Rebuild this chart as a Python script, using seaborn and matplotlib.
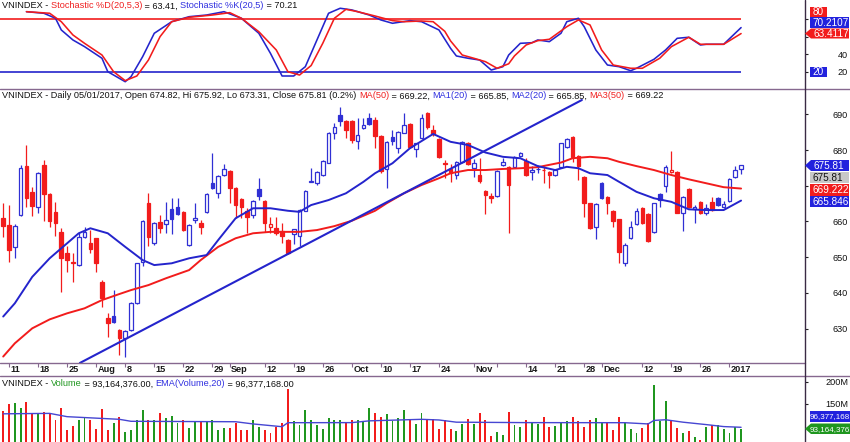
import numpy as np
import pandas as pd
import matplotlib
matplotlib.use("Agg")
import matplotlib.pyplot as plt
from matplotlib.patches import Polygon
from matplotlib.lines import Line2D
import seaborn as sns

# ---------------- data ----------------
opens = [661.1, 659.0, 652.8, 661.8, 675.5, 668.3, 664.0, 675.8, 667.7, 662.6,
         657.1, 651.3, 648.8, 647.8, 655.7, 654.1, 655.3, 643.1, 632.9, 633.6,
         629.6, 627.4, 629.6, 637.1, 648.7, 665.1, 653.9, 659.8, 659.3, 663.4,
         664.1, 662.7, 653.4, 660.5, 659.7, 662.7, 670.7, 667.9, 673.0, 674.2,
         669.3, 666.3, 663.0, 661.8, 669.1, 665.7, 658.4, 658.1, 657.4, 654.8,
         656.5, 656.0, 663.0, 671.1, 670.7, 673.0, 676.5, 684.9, 689.8, 688.0,
         688.0, 682.6, 686.1, 688.9, 688.5, 684.0, 674.7, 683.6, 680.5, 684.9,
         687.3, 680.2, 683.3, 690.4, 685.6, 683.1, 676.3, 674.6, 673.0, 676.7,
         682.1, 674.9, 673.0, 668.5, 667.0, 667.1, 675.8, 675.2, 675.2, 678.3,
         677.0, 673.9, 674.6, 674.5, 673.9, 673.0, 675.2, 680.9, 683.6, 678.3,
         672.5, 665.1, 658.4, 670.7, 666.8, 663.0, 660.6, 648.3, 655.3, 659.3,
         663.7, 662.1, 657.1, 667.7, 669.9, 673.9, 673.9, 662.3, 669.1, 663.5,
         665.5, 662.5, 665.5, 666.5, 664.0, 665.7, 672.4, 674.82]
highs = [665.2, 664.6, 659.2, 675.8, 681.4, 669.7, 673.8, 677.2, 668.0, 665.5,
         658.1, 653.0, 651.2, 656.7, 658.5, 657.6, 655.5, 643.5, 634.3, 640.8,
         630.0, 629.6, 637.5, 648.5, 660.4, 668.1, 659.8, 661.8, 665.5, 666.5,
         666.5, 663.0, 659.2, 665.1, 660.4, 668.0, 679.3, 673.0, 676.1, 674.5,
         669.7, 666.5, 663.7, 666.0, 672.1, 666.0, 661.3, 661.3, 659.7, 655.0,
         658.0, 663.4, 668.7, 675.0, 674.2, 677.1, 685.1, 687.6, 692.0, 688.3,
         688.3, 688.9, 688.9, 690.5, 689.3, 684.2, 682.4, 685.6, 685.3, 690.3,
         687.6, 682.1, 690.0, 690.6, 686.9, 683.3, 677.2, 676.1, 676.9, 682.5,
         682.3, 677.4, 677.7, 668.8, 667.9, 674.3, 677.7, 675.4, 678.3, 679.5,
         677.8, 675.5, 675.8, 675.5, 674.2, 674.6, 682.1, 683.5, 683.8, 678.5,
         672.7, 665.3, 665.1, 671.0, 667.0, 663.2, 660.8, 653.9, 660.2, 663.8,
         664.0, 662.3, 665.3, 668.0, 675.7, 679.8, 674.1, 667.0, 669.5, 664.6,
         665.8, 665.0, 666.8, 666.8, 665.8, 672.1, 675.5, 675.92]
lows = [655.7, 648.7, 649.9, 661.5, 664.1, 661.5, 662.4, 660.0, 658.5, 656.0,
        640.4, 646.0, 643.2, 647.5, 655.5, 651.1, 646.0, 636.2, 627.8, 631.6,
        622.6, 622.2, 629.4, 637.0, 647.5, 653.0, 653.5, 656.9, 656.8, 656.4,
        661.8, 657.3, 653.0, 659.5, 656.5, 662.5, 669.0, 666.5, 672.8, 665.1,
        660.9, 660.9, 656.7, 661.0, 666.0, 657.0, 656.9, 656.2, 654.1, 650.9,
        653.7, 653.2, 662.8, 671.0, 670.2, 672.8, 676.3, 683.0, 686.7, 683.5,
        682.1, 680.2, 685.9, 687.0, 680.5, 673.5, 669.3, 681.4, 679.1, 684.7,
        680.5, 678.1, 683.0, 686.0, 684.0, 677.8, 672.1, 671.1, 671.8, 676.5,
        675.9, 672.4, 670.9, 662.1, 665.1, 666.9, 675.5, 656.9, 675.0, 678.0,
        672.6, 671.6, 673.5, 670.9, 669.3, 672.8, 675.0, 680.7, 676.7, 671.6,
        661.2, 657.9, 655.0, 666.3, 662.1, 658.4, 648.5, 647.5, 655.1, 659.1,
        659.3, 654.3, 656.9, 664.1, 668.3, 673.7, 662.3, 657.4, 663.8, 659.5,
        662.1, 661.7, 663.0, 664.4, 663.8, 665.5, 672.2, 673.31]
closes = [658.6, 652.0, 658.7, 674.9, 666.5, 664.3, 673.5, 667.7, 660.2, 659.7,
          649.7, 649.2, 648.4, 655.7, 657.1, 652.2, 648.3, 638.5, 631.5, 631.8,
          627.3, 629.4, 637.3, 648.3, 660.2, 655.7, 659.5, 658.1, 660.4, 660.6,
          662.1, 657.6, 659.0, 661.0, 658.4, 667.7, 669.3, 672.7, 674.6, 669.3,
          664.6, 664.0, 661.3, 665.8, 667.0, 659.5, 659.2, 656.7, 656.0, 651.3,
          657.8, 663.2, 668.5, 671.4, 673.9, 676.9, 684.9, 686.5, 688.2, 685.6,
          682.8, 684.2, 687.0, 687.2, 684.0, 674.1, 682.2, 682.5, 685.1, 687.0,
          680.8, 681.9, 688.9, 686.4, 684.5, 678.1, 676.0, 673.7, 676.7, 682.3,
          676.1, 676.5, 671.4, 667.4, 666.6, 674.1, 676.7, 670.2, 678.1, 679.1,
          673.0, 674.4, 674.7, 674.3, 673.0, 674.4, 681.9, 683.0, 678.1, 675.5,
          665.1, 658.1, 664.9, 666.5, 665.1, 660.2, 651.4, 653.4, 658.5, 663.0,
          659.5, 654.6, 665.1, 666.0, 675.2, 674.4, 662.5, 666.8, 664.0, 664.1,
          662.3, 663.7, 663.2, 664.6, 664.8, 671.9, 674.4, 675.81]
volume_m = [133.4, 148.6, 150.8, 139.5, 154.5, 125.9, 125.9, 131.8, 125.9, 113.0,
            140.9, 90.2, 99.3, 113.0, 116.8, 113.0, 91.8, 137.2, 90.2, 105.4,
            120.5, 86.4, 90.2, 113.8, 135.7, 113.0, 113.0, 129.6, 116.8, 122.1,
            105.4, 112.3, 94.1, 110.7, 110.0, 110.0, 112.0, 90.2, 94.1, 95.6,
            105.4, 90.2, 90.2, 113.0, 96.0, 90.2, 82.6, 96.0, 106.8, 182.7,
            110.0, 102.5, 135.7, 113.0, 102.5, 91.8, 116.8, 112.0, 112.0, 105.4,
            112.0, 112.0, 110.0, 140.9, 129.6, 120.5, 126.7, 110.0, 117.5, 135.7,
            113.0, 104.0, 128.0, 114.5, 114.5, 91.8, 112.0, 91.8, 88.0, 104.0,
            114.5, 104.0, 128.0, 113.0, 76.6, 86.4, 78.8, 130.4, 102.5, 96.0,
            113.0, 105.4, 104.0, 120.5, 97.2, 98.7, 106.8, 110.0, 119.0, 110.0,
            96.0, 113.0, 116.8, 105.4, 106.8, 90.2, 120.5, 105.4, 91.8, 82.6,
            94.1, 105.4, 192.5, 110.0, 156.8, 110.0, 94.1, 84.5, 88.0, 75.0,
            67.5, 97.2, 102.5, 102.5, 91.8, 84.5, 96.0, 93.16]

ma20_idx = [0, 2, 5, 8, 11, 13, 15, 18, 21, 24, 26, 29, 32, 35, 37, 40, 43, 46, 49, 51,
            53, 56, 59, 62, 64, 67, 70, 74, 77, 80, 83, 86, 89, 92, 95, 97, 99, 101, 104,
            106, 109, 112, 115, 118, 121, 124, 127]
ma20_val = [633.4, 637.1, 644.5, 649.7, 653.9, 656.7, 658.1, 656.7, 652.9, 649.2,
            647.8, 648.3, 649.7, 650.6, 654.8, 660.9, 663.7, 663.7, 663.0, 662.7,
            664.6, 666.0, 667.9, 671.1, 673.5, 676.3, 680.5, 684.5, 682.3, 681.4,
            679.3, 678.1, 677.7, 675.5, 674.4, 675.3, 674.9, 673.5, 673.0, 671.1,
            668.3, 666.5, 665.5, 663.4, 663.2, 663.2, 665.85]
ma50_idx = [0, 2, 5, 8, 11, 14, 17, 20, 22, 25, 28, 32, 34, 37, 40, 43, 46, 49, 51, 54,
            57, 60, 64, 66, 69, 72, 75, 77, 80, 83, 86, 89, 92, 96, 98, 101, 104, 106,
            109, 112, 115, 118, 121, 124, 127]
ma50_val = [622.2, 625.9, 630.1, 632.6, 634.3, 635.7, 638.0, 639.7, 640.8, 642.2,
            644.1, 646.4, 649.2, 652.9, 655.3, 656.7, 657.1, 657.1, 657.1, 657.6,
            658.7, 660.2, 663.0, 665.1, 667.9, 670.2, 672.1, 673.5, 674.4, 674.4,
            674.7, 674.9, 675.2, 676.5, 677.7, 678.1, 677.7, 676.7, 675.5, 674.4,
            673.0, 671.8, 670.7, 669.6, 669.22]

trend_idx = [13.2, 99.6]
trend_val = [620.4, 694.0]

stk_idx = [4, 7, 9, 10, 12, 14, 17, 18, 21, 22, 24, 26, 29, 32, 35, 38, 41, 44, 46, 48,
           50, 52, 54, 56, 58, 60, 63, 65, 67, 70, 72, 75, 77, 78, 80, 82, 84, 86, 87, 89,
           91, 92, 94, 96, 97, 99, 100, 102, 104, 106, 108, 109, 112, 114, 116, 118, 120,
           121, 124, 127]
stk_val = [88.3, 86.5, 80.8, 67.5, 56.1, 48.5, 35.3, 20.0, 8.6, 14.3,
           37.1, 63.7, 76.9, 82.6, 84.5, 88.3, 80.8, 63.7, 40.9, 15.1,
           15.1, 25.7, 56.1, 86.5, 92.2, 90.3, 84.5, 78.9, 75.1, 78.1,
           76.9, 67.5, 46.6, 37.9, 35.3, 33.3, 21.9, 25.7, 39.0, 52.3,
           53.0, 56.1, 54.2, 63.7, 76.9, 80.8, 71.2, 44.7, 27.6, 25.7,
           21.1, 23.9, 34.1, 44.7, 58.0, 59.2, 50.4, 51.2, 51.2, 70.21]
std_idx = [4, 8, 10, 12, 14, 17, 19, 21, 23, 25, 27, 29, 32, 36, 39, 41, 44, 47, 49, 51,
           53, 55, 57, 59, 61, 64, 67, 69, 72, 74, 76, 77, 79, 81, 83, 85, 87, 88, 90, 92,
           94, 97, 99, 101, 103, 105, 108, 110, 113, 115, 118, 120, 124, 127]
std_val = [88.3, 86.5, 76.9, 61.8, 52.3, 39.0, 20.0, 9.8, 15.1, 33.3,
           59.9, 76.9, 81.9, 84.5, 87.2, 80.8, 65.5, 44.7, 20.0, 16.2,
           27.0, 52.3, 80.8, 91.0, 88.3, 83.4, 78.1, 76.9, 77.7, 76.9,
           66.0, 55.0, 39.0, 35.3, 31.4, 23.9, 29.0, 38.0, 50.4, 55.3,
           56.9, 71.2, 78.9, 73.2, 44.7, 27.6, 23.9, 23.9, 35.3, 48.5,
           59.2, 51.2, 51.2, 63.41]

ema_idx = [0, 8, 11, 20, 22, 40, 43, 48, 49, 60, 63, 72, 75, 78, 90, 107, 111, 112,
           114, 117, 121, 124, 127]
ema_val = [127, 128, 120.5, 114.5, 110, 109, 104, 97.7, 106.8, 107, 111, 114.5, 113,
           108, 107, 106.8, 104, 112, 113.5, 108, 102.5, 98, 96.38]

tick_idx = [1, 6, 11, 16, 21, 26, 31, 36, 39, 45, 50, 55, 60, 65, 70, 75, 81, 85, 90,
            95, 100, 103, 110, 115, 120, 125]
tick_lab = ['11', '18', '25', 'Aug', '8', '15', '22', '29', 'Sep', '12', '19', '26',
            'Oct', '10', '17', '24', 'Nov', '', '14', '21', '28', 'Dec', '12', '19',
            '26', '2017']

# last-value labels shown on the right scale
stoch_k_last = '70.2107'
stoch_d_last = '63.4117'
ma50_last = '669.222'
ma20_last = '665.846'
vol_last = '93,164,376'
vol_ema_last = '96,377,168'

# ---------------- styling ----------------
sns.set_theme(style="white")
plt.rcParams['font.family'] = ['Liberation Sans', 'DejaVu Sans']

RED = '#f21c1c'
BLUE = '#2424cc'
CBLUE = '#3030d4'
GREEN = '#1f961f'
SEP = '#86688f'
DARK = '#222222'

W, H = 850, 442
fig = plt.figure(figsize=(W / 100, H / 100), dpi=100)
fig.patch.set_facecolor('white')


def fx(px):
    return px / W


def fy(py):
    return 1 - py / H


RIGHT = 805
XL = (-0.55, 138.0)
ax_st = fig.add_axes([0, fy(88.5), fx(RIGHT), 88.5 / H])
ax_main = fig.add_axes([0, fy(363.3), fx(RIGHT), (363.3 - 88.5) / H])
ax_vol = fig.add_axes([0, 0, fx(RIGHT), (442 - 376) / H])

for ax in (ax_st, ax_main, ax_vol):
    ax.set_xlim(*XL)
    ax.set_facecolor('white')
    for s in ax.spines.values():
        s.set_visible(False)

ax_st.set_ylim(0.87, 101.6)
ax_main.set_ylim(620.31, 697.22)
ax_vol.set_ylim(62.94, 212.96)

# ---------------- candles ----------------
o = np.array(opens); h = np.array(highs); l = np.array(lows); c = np.array(closes)
n = len(c)
idx = np.arange(n)
prev = np.r_[np.inf, c[:-1]]
up_day = c > prev
col = [CBLUE if u else RED for u in up_day]
face = [('white' if cc >= oo else cl) for cc, oo, cl in zip(c, o, col)]
body_bot = np.minimum(o, c)
body_h = np.maximum(np.abs(c - o), 0.2)
ax_main.vlines(idx, l, h, colors=col, lw=0.9, zorder=3)
ax_main.bar(idx, body_h, bottom=body_bot, width=0.62, color=face, edgecolor=col,
            linewidth=0.9, zorder=4)

# moving averages + trend line
sns.lineplot(x=ma50_idx, y=ma50_val, ax=ax_main, color=RED, linewidth=1.4, zorder=5)
sns.lineplot(x=ma20_idx, y=ma20_val, ax=ax_main, color=BLUE, linewidth=1.4, zorder=5)
sns.lineplot(x=trend_idx, y=trend_val, ax=ax_main, color=BLUE, linewidth=1.5, zorder=5)

# ---------------- stochastic ----------------
ax_st.hlines(80, XL[0], n - 1, color=RED, lw=1.2, zorder=2)
ax_st.hlines(20, XL[0], n - 1, color=BLUE, lw=1.2, zorder=2)
sns.lineplot(x=stk_idx, y=stk_val, ax=ax_st, color=BLUE, linewidth=1.15, zorder=4)
sns.lineplot(x=std_idx, y=std_val, ax=ax_st, color=RED, linewidth=1.15, zorder=5)

# ---------------- volume ----------------
vcol = [GREEN if u else RED for u in up_day]
ax_vol.bar(idx, volume_m, width=0.33, color=vcol, linewidth=0, zorder=3)
sns.lineplot(x=ema_idx, y=ema_val, ax=ax_vol, color='#4646d2', linewidth=1.0, zorder=4)

for ax in (ax_st, ax_main, ax_vol):
    ax.set_xlabel('')
    ax.set_ylabel('')
    ax.set_xlim(*XL)

# ---------------- right axes ----------------
# labels hidden behind the value boxes in the reference are left blank
for ax, ticks, labels in [
        (ax_st, [20, 40, 60, 80], ['20', '40', '', '']),
        (ax_main, [630, 640, 650, 660, 670, 680, 690],
         ['630', '640', '650', '660', '', '680', '690']),
        (ax_vol, [150, 200], ['150M', '200M'])]:
    ax.yaxis.tick_right()
    ax.set_yticks(ticks)
    ax.set_yticklabels(labels)
    ax.tick_params(axis='y', which='both', right=True, left=False, direction='out',
                   length=2.2, width=0.8, color=DARK, pad=28.8, labelsize=6.6,
                   labelcolor='#111111')
    for t in ax.get_yticklabels():
        t.set_ha('right')

ax_st.set_xticks([])
ax_vol.set_xticks([])
ax_main.set_xticks(tick_idx)
ax_main.set_xticklabels([])
ax_main.tick_params(axis='x', bottom=True, direction='out', length=2.6, width=0.8,
                    color=SEP)
for ti, tl in zip(tick_idx, tick_lab):
    ax_main.annotate(tl, xy=(ti, 0), xycoords=('data', 'axes fraction'),
                     xytext=(1.5, -6.3), textcoords='offset pixels', ha='left',
                     va='center', fontsize=6.6, fontweight='bold', color='#1a1a1a',
                     annotation_clip=False)

# ---------------- frame lines ----------------
def hline(py, x0, x1, color=SEP, lw=1.0):
    fig.add_artist(Line2D([fx(x0), fx(x1)], [fy(py), fy(py)], color=color, lw=lw,
                          transform=fig.transFigure, zorder=2))


hline(88.5, 0, W)
hline(363.3, 0, RIGHT)
hline(376, 0, W)
fig.add_artist(Line2D([fx(RIGHT), fx(RIGHT)], [0, 1], color='#3a2a44', lw=1.0,
                      transform=fig.transFigure, zorder=2))

# ---------------- value boxes ----------------
def box(x0, y0, x1, y1, fc, txt, tc='white', arrow=False, tx=None, size=7.2):
    if arrow:
        ym = (y0 + y1) / 2
        pts = [(x0, ym), (x0 + 6, y0), (x1, y0), (x1, y1), (x0 + 6, y1)]
    else:
        pts = [(x0, y0), (x1, y0), (x1, y1), (x0, y1)]
    fig.add_artist(Polygon([(fx(a), fy(b)) for a, b in pts], closed=True,
                           facecolor=fc, edgecolor='none', transform=fig.transFigure,
                           zorder=5))
    if tx is None:
        tx = x0 + 2.5 if not arrow else x0 + 8
    fig.text(fx(tx), fy((y0 + y1) / 2 + 0.3), txt, color=tc, fontsize=size,
             ha='left', va='center', zorder=6)


box(810, 6.5, 827, 16.5, RED, '80')
box(810, 17, 849, 27.5, '#2222dd', stoch_k_last)
box(805, 28.5, 849, 38.5, RED, stoch_d_last, arrow=True)
box(810, 66.5, 827, 77, '#2222dd', '20')

box(805, 160, 849, 171, '#2222dd', f'{closes[-1]:.2f}', arrow=True)
box(810, 172, 849, 182.5, '#c8c8c8', f'{closes[-1]:.2f}', tc='#111111')
box(810, 184, 849, 195.5, RED, ma50_last)
box(810, 196, 849, 206.5, '#2222dd', ma20_last)

box(810, 410.5, 852, 421.5, '#2222dd', vol_ema_last, tx=809.5, size=5.8)
box(805, 423.5, 852, 434, '#1f961f', vol_last, arrow=True, tx=809.5, size=5.8)

# ---------------- titles ----------------
renderer = fig.canvas.get_renderer()


def colored_line(px, py, parts, size=6.6):
    x = px
    for txt, clr in parts:
        t = fig.text(fx(x), fy(py), txt, color=clr, fontsize=size, ha='left',
                     va='center', zorder=6)
        x += t.get_window_extent(renderer=renderer).width


K = '#111111'
TR = '#f02020'
TB = '#3030e0'
colored_line(2, 6, [("VNINDEX - ", K), ("Stochastic %D(20,5,3)", TR),
                    (f" = {std_val[-1]:.2f}, ", K), ("Stochastic %K(20,5)", TB),
                    (f" = {stk_val[-1]:.2f}", K)])
colored_line(2, 96, [(f"VNINDEX - Daily 05/01/2017, Open {opens[-1]:.2f}, Hi {highs[-1]:.2f}, "
                      f"Lo {lows[-1]:.2f}, Close {closes[-1]:.2f} (0.2%) ", K),
                     ("MA(50)", TR), (f" = {ma50_val[-1]:.2f}, ", K),
                     ("MA1(20)", TB), (f" = {ma20_val[-1]:.2f}, ", K),
                     ("MA2(20)", TB), (f" = {ma20_val[-1]:.2f}, ", K),
                     ("MA3(50)", TR), (f" = {ma50_val[-1]:.2f}", K)])
colored_line(2, 384, [("VNINDEX - ", K), ("Volume", GREEN),
                      (f" = {vol_last}.00, ", K), ("EMA(Volume,20)", TB),
                      (f" = {vol_ema_last}.00", K)])

fig.savefig("out.png", dpi=100, facecolor='white')
